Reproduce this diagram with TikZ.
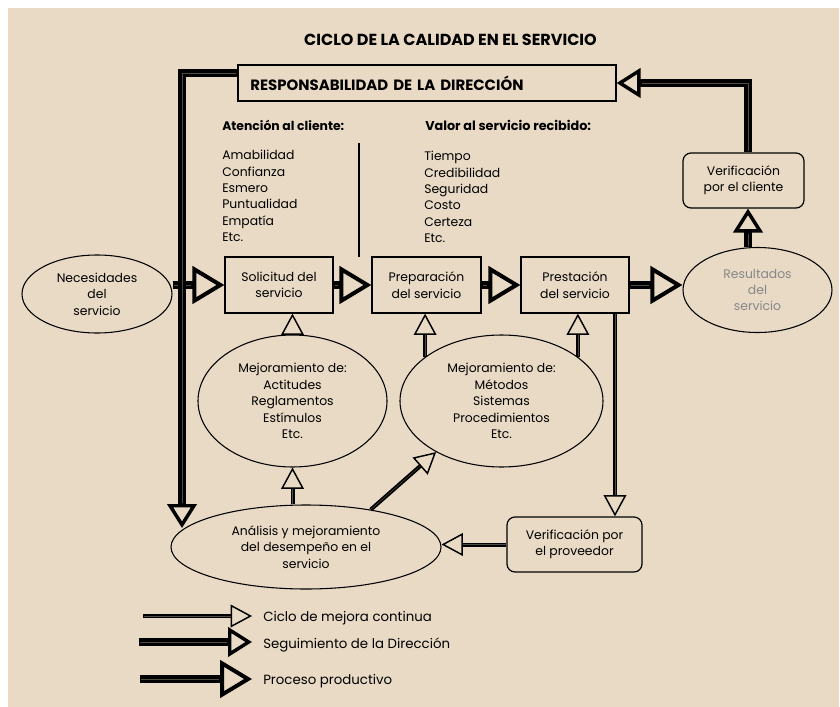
\documentclass[tikz,border=0pt]{standalone}
\usepackage{fontspec}
\setmainfont{Poppins}
\usetikzlibrary{shapes.geometric,arrows.meta,calc}
\definecolor{fondo}{RGB}{233,218,197}
\definecolor{grigio}{RGB}{135,135,135}
\colorlet{striscia}{fondo!35!black}

\begin{document}
\begin{tikzpicture}[x=0.75pt,y=-0.75pt,
        testo/.style={font=\fontsize{9.3}{12.3}\selectfont},
        scatola/.style={draw,line width=0.9pt,inner sep=0pt,align=center,testo},
        ovale/.style={ellipse,draw,line width=0.8pt,inner sep=0pt,align=center,testo},
        proceso/.style={line width=5.6pt,-{Triangle[open,length=24pt,width=28pt,line width=3pt]},
            postaction={draw=striscia,line width=0.35pt,-,shorten >=25pt,shorten <=1pt}},
        seguimento/.style={line width=6pt,-{Triangle[open,length=18pt,width=22pt,line width=2.6pt]},
            postaction={draw=striscia,line width=0.4pt,-,shorten >=19pt,shorten <=1pt}},
        ciclo/.style={line width=3pt,-{Triangle[open,length=16pt,width=17pt,line width=1.1pt]},
            postaction={draw=striscia,line width=0.35pt,-,shorten >=16pt,shorten <=0.5pt}}]
            \useasboundingbox (0,0) rectangle (840,707);
            \fill[fondo] (8,8) rectangle (839,707);

            %titolo e direzione
            \node[font=\bfseries\fontsize{12}{14}\selectfont] (titolo) at (450.5,40) {CICLO DE LA CALIDAD EN EL SERVICIO};
            \node[scatola,minimum width=283.5pt,minimum height=27pt,text width=265pt,align=left,font=\bfseries\fontsize{11.2}{13}\selectfont] (dir) at (427,83) {RESPONSABILIDAD DE LA DIRECCIÓN};

            %elenchi in alto
            \node[anchor=west,inner sep=0pt,font=\bfseries\fontsize{9.3}{11}\selectfont] (att) at (222,125) {Atención al cliente:};
            \node[anchor=west,inner sep=0pt,font=\bfseries\fontsize{9.6}{11}\selectfont] (val) at (425,125) {Valor al servicio recibido:};
            \node[anchor=north west,inner sep=0pt,align=left,testo] (lista1) at (222,150) {Amabilidad\\Confianza\\Esmero\\Puntualidad\\Empatía\\Etc.};
            \node[anchor=north west,inner sep=0pt,align=left,testo] (lista2) at (424,151) {Tiempo\\Credibilidad\\Seguridad\\Costo\\Certeza\\Etc.};
            \draw[line width=0.8pt] (359,143) -- (359,257);

            %processo
            \node[ovale,minimum width=112.5pt,minimum height=58.5pt] (nec) at (97,294) {Necesidades\\del\\servicio};
            \node[scatola,minimum width=81pt,minimum height=42pt] (sol) at (279,285) {Solicitud del\\servicio};
            \node[scatola,minimum width=81.75pt,minimum height=42pt] (prep) at (426.5,285) {Preparación\\del servicio};
            \node[scatola,minimum width=81pt,minimum height=42pt] (prest) at (575,285) {Prestación\\del servicio};
            \node[ovale,minimum width=111.75pt,minimum height=63.75pt,text=grigio] (res) at (757.5,290) {Resultados\\del\\servicio};
            \node[scatola,rounded corners=6pt,minimum width=90.75pt,minimum height=41.25pt] (vcli) at (743.5,180.5) {Verificación\\por el cliente};

            %miglioramento
            \node[ovale,minimum width=141.75pt,minimum height=99pt] (mej1) at (292.5,401) {Mejoramiento de:\\Actitudes\\Reglamentos\\Estímulos\\Etc.};
            \node[ovale,minimum width=152.25pt,minimum height=99pt] (mej2) at (501.5,401) {Mejoramiento de:\\Métodos\\Sistemas\\Procedimientos\\Etc.};
            \node[ovale,minimum width=202.5pt,minimum height=63pt] (ana) at (306,547) {Análisis y mejoramiento\\del desempeño en el\\servicio};
            \node[scatola,rounded corners=6pt,minimum width=101.25pt,minimum height=41.25pt] (vprov) at (574.5,544.5) {Verificación por\\el proveedor};

            %punti di appoggio
            \coordinate (giu) at ($(ana.center)+(-124,-19)$);
            \coordinate (vc) at ($(vcli.south)+(4.5,0)$);
            \coordinate (pg) at ($(prest.south)+(40,0)$);

            %frecce del processo
            \draw[proceso] (nec.east |- sol.west) -- (sol.west);
            \draw[proceso] (sol.east) -- (prep.west);
            \draw[proceso] (prep.east) -- (prest.west);
            \draw[proceso] (prest.east) -- (prest.east -| res.west);

            %frecce della direzione
            \draw[seguimento] (vc |- res.north) -- (vc);
            \draw[seguimento] ($(vcli.north)+(4.5,0)$) |- (dir.east);
            \draw[seguimento] ($(dir.west)+(0,-10)$) -| (giu);

            %frecce del ciclo
            \draw[ciclo] (pg) -- (pg |- vprov.north);
            \draw[ciclo] (vprov.west) -- (vprov.west -| ana.east);
            \draw[ciclo] (mej1.south |- ana.north) -- (mej1.south);
            \draw[ciclo] (ana.30) -- (mej2.218);
            \draw[ciclo] (mej1.north) -- (mej1.north |- sol.south);
            \draw[ciclo] (mej2.150) -- (mej2.150 |- prep.south);
            \draw[ciclo] (mej2.30) -- (mej2.30 |- prest.south);

            %legenda
            \coordinate (c1a) at (143,616);
            \coordinate (c1b) at (252,616);
            \coordinate (c2a) at (139,642);
            \coordinate (c2b) at (252,642);
            \coordinate (c3a) at (140,679);
            \coordinate (c3b) at (252,679);
            \node[anchor=west,inner sep=0pt,font=\fontsize{10}{11}\selectfont] (leg1) at (263,618) {Ciclo de mejora continua};
            \node[anchor=west,inner sep=0pt,font=\fontsize{10}{11}\selectfont] (leg2) at (263,645) {Seguimiento de la Dirección};
            \node[anchor=west,inner sep=0pt,font=\fontsize{10}{11}\selectfont] (leg3) at (263,681) {Proceso productivo};
            \draw[ciclo] (c1a) -- (c1b);
            \draw[seguimento] (c2a) -- (c2b);
            \draw[proceso] (c3a) -- (c3b);
        \end{tikzpicture}
\end{document}
